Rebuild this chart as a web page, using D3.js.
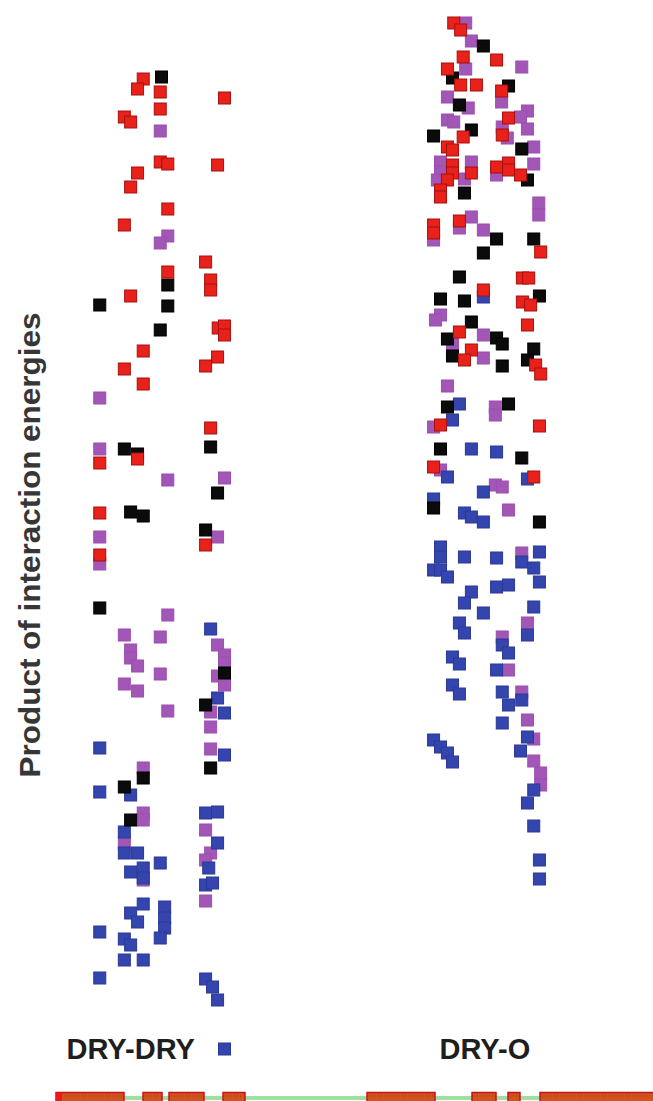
<!DOCTYPE html>
<html>
<head>
<meta charset="utf-8">
<script src="https://cdn.jsdelivr.net/npm/d3@7"></script>
<style>
  html, body { margin: 0; padding: 0; background: #fff; }
  svg { display: block; }
  text { font-family: "Liberation Sans", Arial, sans-serif; }
</style>
</head>
<body>
<svg id="chart" width="653" height="1101"></svg>
<script>
// column categories
const categories = ["DRY-DRY", "DRY-O"];
const types = ["purple", "blue", "black", "red"];

// [jitter, product] pairs, per column and type
const dryDryRed = [[-2.9,931],[-3.8,921],[-0.2,918],[-0.2,901],[10,912],[-5.9,893],[-4.9,888],[-0.2,848],[1,846],[8.9,845],[-3.8,837],[-4.9,823],[1,801],[-5.9,785],[7,748],[1,738],[7.8,730],[7.8,720],[-4.9,714],[9,682],[10,684],[10,675],[-2.9,659],[8.9,653],[7,644],[-5.9,641],[-2.9,626],[7.8,582],[-3.8,551],[-9.8,547],[-9.8,497],[7,465],[-9.8,455]];
const dryDryPurple = [[-0.2,879],[1,774],[-0.2,767],[-9.8,612],[-9.8,561],[1,530],[10,532],[8.9,473],[-9.8,473],[-9.8,446],[1,395],[-5.9,375],[-4.9,360],[-4.9,352],[-3.8,344],[-0.2,373],[8.9,365],[10,355],[10,347],[8.9,334],[10,325],[-0.2,336],[-5.9,326],[-3.8,319],[7.8,298],[1,299],[7.8,283],[7.8,261],[-2.9,242],[-2.9,197],[-2.9,190],[-5.9,167],[-2.9,130],[7,180],[7.8,157],[7,150],[7,109]];
const dryDryBlack = [[0,933],[1,725],[-9.8,705],[1,704],[-0.2,680],[-5.9,561],[-3.8,556],[7.8,563],[8.9,517],[-4.9,498],[-2.9,494],[7,480],[-9.8,402],[10,337],[7,305],[7.8,242],[-2.9,232],[-5.9,223],[-4.9,190]];
const dryDryBlue = [[7.8,381],[8.9,312],[10,297],[-9.8,262],[10,255],[-9.8,218],[-4.9,215],[-5.9,178],[-5.9,157],[-3.8,157],[-0.2,147],[-4.9,138],[-2.9,142],[-2.9,132],[7,197],[8.9,198],[8.9,167],[7.5,142],[7,125],[8.1,127],[-2.9,106],[-4.9,97],[-3.8,88],[0.5,103],[0.5,92],[0.5,82],[-0.2,72],[-9.8,78],[-5.9,71],[-4.9,65],[-5.9,50],[-2.9,50],[-9.8,32],[7,31],[8.1,23],[8.9,10]];

const dryORed = [[-5.2,987],[-4.1,980],[-3.7,953],[1.6,950],[-6.2,941],[-4.1,925],[-1.6,925],[2.4,919],[3.5,892],[-3.7,873],[2.5,875],[-6.2,863],[-5.4,860],[-5.4,845],[-5.4,837],[-2.4,837],[1.6,843],[3.5,847],[3.5,840],[5.4,835],[-6.2,830],[-7.3,820],[-7.3,813],[-8.4,785],[-8.4,777],[-4.3,789],[8.6,758],[5.7,732],[6.7,732],[-0.5,720],[5.7,708],[7,705],[6.5,685],[-4.3,678],[-2.4,660],[-3.5,650],[7.8,645],[8.6,636],[-7.3,585],[8.4,584],[-8.4,543],[7.5,533]];
const dryOPurple = [[-3.3,987],[-2.4,969],[5.6,943],[-3.3,941],[2.4,908],[-6.2,913],[-2.9,902],[-6.2,890],[-5.2,888],[6.5,899],[5.4,893],[6.5,881],[2.5,883],[3.3,872],[7.5,863],[-7.3,848],[-7.3,838],[-2.4,848],[-3.5,831],[7.5,846],[1.6,835],[-7.8,830],[8.3,807],[8.3,795],[-8.4,770],[-4.3,782],[-2.4,793],[-0.5,780],[-7.3,695],[-8.1,690],[-0.5,675],[-5.4,666],[-0.5,652],[-6.2,624],[1.4,603],[1.4,595],[-8.4,583],[-7.3,540],[1.4,525],[2.5,523],[3.5,500],[5.6,457],[6.5,387],[2.5,373],[3.5,340],[5.6,318],[6.5,290],[7.5,271],[7.5,249],[8.6,237],[8.6,225]];
const dryOBlack = [[-0.5,964],[-5.4,932],[3.5,924],[-4.3,905],[-2.4,880],[-8.4,874],[5.6,861],[6.5,830],[-3.5,817],[1.6,771],[7.5,771],[-0.5,757],[-4.3,733],[-7.3,711],[-3.5,709],[8.4,714],[-2.4,688],[-6.2,671],[-5.4,654],[1.6,672],[2.5,666],[2.5,644],[7.5,661],[6.5,650],[-6.2,603],[3.5,606],[-7.3,561],[5.6,552],[-8.4,502],[8.4,488]];
const dryOBlue = [[-0.5,713],[-4.3,606],[-5.4,590],[-2.4,561],[1.6,558],[-6.2,533],[6.5,531],[-0.5,518],[-8.4,511],[-3.5,497],[-2.4,493],[-0.5,488],[-7.3,463],[-7.3,453],[-8.4,440],[-7.3,440],[-6.2,433],[-3.5,453],[1.6,452],[5.6,448],[7.5,442],[8.4,458],[1.6,423],[3.5,425],[8.4,428],[-2.4,418],[-3.5,407],[-0.5,397],[7.5,403],[-4.3,387],[-3.5,377],[6.5,375],[2.5,365],[3.5,357],[-5.4,353],[-4.3,346],[1.6,340],[-5.4,325],[-4.3,316],[2.5,318],[3.5,305],[5.6,310],[2.5,287],[6.5,273],[-8.4,270],[-7.3,263],[-6.2,257],[-5.4,248],[5.4,259],[7.5,220],[6.5,207],[7.5,184],[8.4,150],[8.4,131]];

// sequence track segments at the bottom (start, end)
const trackSegments = [[0,68],[87,106],[113,148],[167,189],[311,379],[416,440],[452,464],[484,600]];

const points = [];
function addPoints(cat, type, list) {
  list.forEach(([jitter, value]) => points.push({ cat, type, jitter, value }));
}
addPoints("DRY-DRY", "purple", dryDryPurple);
addPoints("DRY-O", "purple", dryOPurple);
addPoints("DRY-DRY", "blue", dryDryBlue);
addPoints("DRY-O", "blue", dryOBlue);
addPoints("DRY-DRY", "black", dryDryBlack);
addPoints("DRY-O", "black", dryOBlack);
addPoints("DRY-DRY", "red", dryDryRed);
addPoints("DRY-O", "red", dryORed);

const svg = d3.select("#chart");
const size = 12;

const x = d3.scaleBand().domain(categories).range([-1, 649]);
const jitterScale = d3.scaleLinear().domain([-10, 10]).range([-63, 63]);
const y = d3.scaleLinear().domain([0, 1000]).range([1010, 10]);

const fill = d3.scaleOrdinal().domain(types).range(["#a257b6", "#3446ad", "#0b0b0b", "#e8211b"]);
const stroke = d3.scaleOrdinal().domain(types).range(["#9a4fb0", "#2b3897", "#000000", "#a8100e"]);

const cx = (d) => x(d.cat) + x.bandwidth() / 2 + jitterScale(d.jitter);

svg.append("g")
  .selectAll("rect")
  .data(points)
  .join("rect")
  .attr("x", (d) => cx(d) - size / 2)
  .attr("y", (d) => y(d.value) - size / 2)
  .attr("width", size)
  .attr("height", size)
  .attr("fill", (d) => fill(d.type))
  .attr("stroke", (d) => stroke(d.type))
  .attr("stroke-width", 1);

// y axis title
svg.append("text")
  .attr("transform", "translate(40,545) rotate(-90)")
  .attr("text-anchor", "middle")
  .attr("font-size", 29)
  .attr("font-weight", "bold")
  .attr("fill", "#363636")
  .attr("textLength", 465)
  .attr("lengthAdjust", "spacingAndGlyphs")
  .text("Product of interaction energies");

// column labels
const labelOffset = { "DRY-DRY": -95, "DRY-O": -47 };
svg.append("g")
  .selectAll("text")
  .data(categories)
  .join("text")
  .attr("x", (d) => x(d) + x.bandwidth() / 2 + labelOffset[d])
  .attr("y", 1059)
  .attr("font-size", 29)
  .attr("font-weight", "bold")
  .attr("fill", "#1e1e1e")
  .text((d) => d);

svg.append("rect")
  .attr("x", x("DRY-DRY") + x.bandwidth() / 2 + 57)
  .attr("y", 1043)
  .attr("width", 12)
  .attr("height", 12)
  .attr("fill", fill("blue"))
  .attr("stroke", stroke("blue"));

// bottom track
const t = d3.scaleLinear().domain([0, 597]).range([56, 653]);
const track = svg.append("g");
track.append("rect")
  .attr("x", t(0))
  .attr("y", 1096)
  .attr("width", t(600) - t(0))
  .attr("height", 4)
  .attr("fill", "#9fe0a0");

track.selectAll("rect.seg")
  .data(trackSegments)
  .join("rect")
  .attr("class", "seg")
  .attr("x", (d) => t(d[0]))
  .attr("y", 1092.5)
  .attr("width", (d) => t(d[1]) - t(d[0]))
  .attr("height", 10)
  .attr("fill", "#d2531d")
  .attr("stroke", "#c21318")
  .attr("stroke-width", 1.5);

track.selectAll("line.dot")
  .data(trackSegments)
  .join("line")
  .attr("class", "dot")
  .attr("x1", (d) => t(d[0]) + 2)
  .attr("x2", (d) => t(d[1]) - 2)
  .attr("y1", 1096)
  .attr("y2", 1096)
  .attr("stroke", "#8f3a12")
  .attr("stroke-width", 1)
  .attr("stroke-dasharray", "1,2");

track.append("rect")
  .attr("x", t(0))
  .attr("y", 1092.5)
  .attr("width", 6)
  .attr("height", 10)
  .attr("fill", "#f0161a");
</script>
</body>
</html>
